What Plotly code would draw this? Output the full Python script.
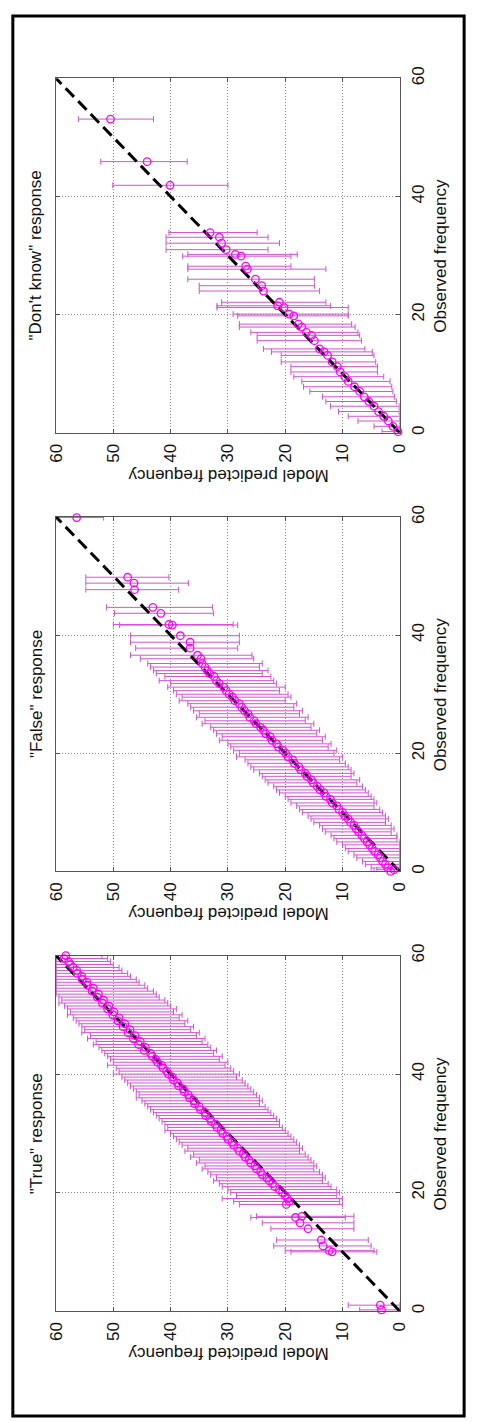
import plotly.graph_objects as go

W, H = 477, 1422

titles = ['"Don\'t know" response', '"False" response', '"True" response']
pred_ticks = [0, 10, 20, 30, 40, 50, 60]
obs_ticks = [0, 20, 40, 60]

# ---- "Don't know" response ----
dk_obs = [53.1, 45.9, 41.9, 33.9, 33.1, 32.1, 31.0, 30.2, 29.9, 28.2, 27.7, 26.0, 24.9, 24.0,
          22.1, 21.5, 21.2, 20.1, 19.8, 18.4, 17.9, 17.0, 16.5, 15.6, 14.2, 13.7, 13.1, 12.0,
          11.2, 10.3, 9.5, 8.7, 7.8, 7.0, 6.1, 5.3, 4.5, 3.6, 2.8, 2.0, 1.1, 0.2]
dk_pred = [50.5, 44.1, 40.1, 33.1, 31.5, 31.1, 30.3, 28.7, 27.7, 26.9, 26.6, 25.2, 24.1, 23.8,
           21.0, 21.3, 20.2, 19.3, 18.5, 17.7, 17.1, 16.3, 15.4, 14.9, 14.0, 13.2, 12.6, 11.8,
           10.9, 10.4, 9.6, 9.0, 7.9, 7.0, 6.2, 5.4, 4.5, 3.7, 2.8, 2.0, 1.2, 0.3]
dk_lo = [43.0, 37.1, 30.0, 24.9, 23.0, 21.0, 23.0, 17.9, 19.0, 19.0, 12.9, 14.9, 14.9, 14.0,
         12.9, 12.1, 9.0, 9.0, 9.0, 8.4, 7.8, 7.3, 7.0, 6.7, 6.1, 4.8, 4.5, 4.2,
         3.9, 3.9, 2.8, 1.7, 1.4, 1.2, 0.9, 0.6, 0.1, 0.1, 0.0, 0.0, 0.0, 0.0]
dk_hi = [56.1, 52.2, 50.1, 40.3, 40.8, 40.8, 40.8, 37.0, 37.9, 37.0, 37.0, 37.0, 35.0, 35.0,
         31.1, 31.9, 31.9, 29.1, 28.3, 28.0, 28.0, 26.0, 24.9, 24.9, 23.8, 22.4, 20.7, 20.7,
         19.0, 19.0, 18.5, 17.1, 16.8, 15.7, 13.5, 12.9, 12.1, 10.7, 9.0, 7.3, 4.5, 3.1]

# ---- "False" response ----
fa_obs = [59.9, 49.8, 48.8, 47.7, 44.7, 43.7, 41.8, 41.7, 39.9, 38.8, 37.8, 36.6, 36.0,
          35.2, 34.6, 34.0, 33.5, 33.0, 32.3, 31.8, 31.2, 30.6, 30.0, 29.5, 28.9, 28.4, 27.8,
          27.2, 26.7, 26.1, 25.5, 25.0, 24.4, 23.9, 23.3, 22.8, 22.2, 21.6, 21.1, 20.5, 20.0,
          19.4, 18.9, 18.3, 17.7, 17.2, 16.6, 16.1, 15.5, 15.0, 14.4, 13.8, 13.3, 12.7, 12.2,
          11.6, 11.1, 10.5, 10.0, 9.4, 8.9, 8.3, 7.8, 7.2, 6.7, 6.1, 5.6, 5.0, 4.5, 3.9, 3.4,
          2.8, 2.3, 1.7, 1.2, 0.6, 0.0, 0.3]
fa_pred = [56.4, 47.5, 46.4, 46.3, 43.1, 41.7, 40.3, 39.7, 38.3, 36.6, 36.6, 35.3, 34.7,
           34.5, 34.0, 33.6, 33.2, 32.4, 32.0, 31.5, 30.7, 30.3, 29.8, 29.2, 28.8, 28.0, 27.6,
           27.1, 26.5, 26.2, 25.4, 25.1, 24.3, 23.8, 23.4, 22.6, 22.3, 21.5, 21.2, 20.4, 19.9,
           19.5, 18.7, 18.4, 17.6, 17.3, 16.5, 16.2, 15.4, 15.1, 14.4, 13.9, 13.2, 12.9, 12.1,
           11.8, 11.0, 10.6, 10.0, 9.6, 9.0, 8.6, 8.0, 7.6, 7.2, 6.6, 6.2, 5.7, 5.3, 4.8, 4.4,
           3.8, 3.4, 3.0, 2.5, 2.1, 1.6, 1.0]
fa_lo = [51.7, 40.3, 36.9, 38.6, 32.7, 32.5, 29.1, 28.3, 28.0, 28.0, 28.3, 25.8, 25.5,
         24.0, 24.5, 23.0, 24.0, 22.5, 22.0, 21.5, 20.0, 21.0, 19.5, 19.0, 20.0, 18.0, 18.5,
         17.0, 17.5, 16.0, 16.5, 15.0, 15.5, 14.0, 14.5, 13.0, 13.5, 12.0, 12.5, 11.0, 11.5,
         10.0, 10.5, 9.5, 9.0, 8.5, 8.0, 8.5, 7.0, 7.5, 6.5, 6.0, 5.5, 5.0, 4.5,
         4.0, 4.5, 3.5, 3.0, 2.5, 2.0, 2.5, 1.5, 1.0, 1.5, 0.5, 0.5, 0.0, 0.0, 0.0, 0.0,
         0.0, 0.0, 0.0, 0.0, 0.0, 0.0, 0.0]
fa_hi = [60.0, 54.8, 54.8, 54.8, 51.2, 49.8, 50.0, 48.9, 47.0, 47.0, 46.1, 47.0, 45.3,
         44.0, 43.5, 43.0, 42.5, 41.0, 42.0, 40.0, 40.5, 39.5, 39.0, 38.0, 38.5, 37.0, 36.5,
         36.0, 35.0, 35.5, 34.0, 34.5, 33.0, 32.5, 32.0, 31.0, 31.5, 30.0, 29.5, 29.0, 28.0,
         28.5, 27.0, 26.5, 26.0, 25.5, 24.5, 24.0, 23.5, 23.0, 22.0, 21.5, 21.0, 20.0, 19.5,
         19.0, 18.0, 17.5, 17.0, 16.0, 15.5, 15.0, 14.0, 13.5, 13.0, 12.0, 11.5, 11.0, 10.0,
         9.5, 9.0, 8.0, 7.5, 6.5, 6.0, 5.0, 4.5, 4.0]

# ---- "True" response ----
tr_obs = [60.0, 59.5, 59.0, 58.5, 58.0, 57.5, 57.0, 56.5, 56.0, 55.5, 55.0, 54.5, 54.0, 53.5,
          53.0, 52.5, 52.0, 51.5, 51.0, 50.5, 50.0, 49.5, 49.0, 48.5, 48.0, 47.5, 47.0, 46.5,
          46.0, 45.5, 45.0, 44.5, 44.0, 43.5, 43.0, 42.5, 42.0, 41.5, 41.0, 40.5, 40.0, 39.5,
          39.0, 38.5, 38.0, 37.5, 37.0, 36.5, 36.0, 35.5, 35.0, 34.5, 34.0, 33.5, 33.0, 32.5,
          32.0, 31.5, 31.0, 30.5, 30.0, 29.5, 29.0, 28.5, 28.0, 27.5, 27.0, 26.5, 26.0, 25.5,
          25.0, 24.5, 24.0, 23.5, 23.0, 22.5, 22.0, 21.5, 21.0, 20.5, 20.0, 19.5, 19.0, 18.5,
          18.0, 16.0, 15.8, 14.9, 13.9, 12.0, 11.0, 10.2, 10.0, 1.0, 0.2]
tr_pred = [58.3, 58.6, 57.8, 57.5, 57.0, 56.4, 56.3, 55.5, 55.4, 54.6, 54.5, 53.5, 53.7, 52.6,
           52.8, 51.7, 51.9, 50.8, 51.0, 49.9, 50.1, 49.0, 49.2, 48.0, 48.3, 47.1, 47.4, 46.2,
           46.5, 45.3, 45.6, 44.4, 44.6, 43.5, 43.2, 42.6, 42.3, 41.6, 41.3, 40.7, 40.4, 39.7,
           39.5, 38.8, 38.6, 37.8, 37.6, 36.9, 36.7, 35.9, 35.8, 35.0, 34.8, 34.0, 33.9, 33.1,
           32.9, 32.2, 31.9, 31.2, 30.9, 30.2, 30.0, 29.3, 29.0, 28.3, 28.0, 27.3, 27.0, 26.3,
           26.0, 25.3, 25.0, 24.3, 24.0, 23.2, 22.8, 22.2, 21.8, 21.0, 20.5, 20.0, 19.6, 19.3,
           19.8, 17.1, 18.2, 17.4, 16.0, 13.7, 13.4, 12.3, 11.8, 3.4, 3.2]
tr_lo = [52.0, 51.0, 50.5, 50.0, 49.0, 48.5, 47.5, 47.0, 46.0, 45.5, 44.5, 44.0, 43.0, 42.5,
         42.0, 41.0, 40.5, 40.0, 39.0, 39.5, 38.0, 38.5, 37.0, 37.5, 36.0, 36.5, 35.0, 35.5,
         34.0, 34.5, 33.5, 33.0, 32.0, 32.5, 31.0, 31.5, 30.0, 30.5, 29.5, 29.0, 28.0, 28.5,
         27.5, 27.0, 26.5, 26.0, 25.5, 25.0, 24.5, 24.0, 24.5, 23.5, 23.0, 22.5, 22.0, 21.5,
         21.0, 21.0, 20.5, 20.0, 19.5, 19.0, 18.5, 18.0, 17.5, 17.0, 17.5, 16.5, 16.0, 15.5,
         15.0, 14.5, 15.0, 14.0, 13.5, 13.0, 13.5, 12.5, 12.0, 11.0, 10.5, 11.0, 10.0, 10.5,
         10.0, 8.0, 9.5, 8.0, 8.0, 5.5, 5.0, 4.5, 4.0, 0.0, 0.0]
tr_hi = [60.0, 60.0, 60.0, 60.0, 60.0, 60.0, 60.0, 60.0, 60.0, 60.0, 60.0, 60.0, 60.0, 60.0,
         59.5, 59.0, 59.5, 58.5, 58.0, 57.5, 58.0, 57.0, 56.5, 56.0, 55.5, 55.0, 55.5, 54.0,
         54.5, 53.0, 53.5, 52.5, 52.0, 51.5, 51.0, 50.5, 50.0, 51.0, 49.5, 49.0, 50.0, 48.5,
         48.0, 47.5, 47.0, 46.5, 46.0, 45.5, 46.0, 45.0, 44.5, 44.0, 43.5, 43.0, 42.5, 42.0,
         41.5, 41.0, 40.5, 41.0, 40.0, 39.5, 39.0, 38.5, 38.0, 37.0, 37.5, 36.0, 36.5, 35.0,
         35.5, 34.0, 34.5, 33.5, 33.0, 32.0, 32.5, 31.5, 31.0, 30.0, 29.5, 28.5, 31.0, 29.0,
         28.0, 25.0, 26.0, 24.0, 22.5, 21.5, 22.0, 20.0, 19.0, 9.0, 7.0]

panels = [
    (dk_obs, dk_pred, dk_lo, dk_hi),
    (fa_obs, fa_pred, fa_lo, fa_hi),
    (tr_obs, tr_pred, tr_lo, tr_hi),
]

# layout geometry (pixels)
left, right = 49, 407
tops = [67, 510, 953]
bottoms = [425, 868, 1312]

FONT = "Liberation Sans, Arial, Helvetica, sans-serif"
MAG = "#ff00ff"
BAR = "#d452d4"


def px(x):
    return x / W


def py(y):
    return 1 - y / H


fig = go.Figure()
annotations = []
layout_axes = {}

for i, (obs, pred, lo, hi) in enumerate(panels):
    n = "" if i == 0 else str(i + 1)
    xa, ya = "x" + n, "y" + n
    plus = [h - p for h, p in zip(hi, pred)]
    minus = [p - l for p, l in zip(pred, lo)]

    fig.add_trace(go.Scatter(
        x=pred, y=obs, xaxis=xa, yaxis=ya, mode="markers",
        marker=dict(size=1, color="rgba(0,0,0,0)"),
        error_x=dict(type="data", symmetric=False, array=plus, arrayminus=minus,
                     color=BAR, thickness=1, width=3),
        showlegend=False, hoverinfo="skip"))
    fig.add_trace(go.Scatter(
        x=[0, 60], y=[0, 60], xaxis=xa, yaxis=ya, mode="lines",
        line=dict(color="black", width=3, dash="12px,6px"),
        showlegend=False, hoverinfo="skip"))
    fig.add_trace(go.Scatter(
        x=pred, y=obs, xaxis=xa, yaxis=ya, mode="markers",
        marker=dict(symbol="circle-open", size=7.5, color=MAG, line=dict(width=1.3, color=MAG)),
        cliponaxis=False, showlegend=False))

    common = dict(
        showgrid=True, gridcolor="#8c8c8c", griddash="1px,2px", gridwidth=1,
        showline=True, mirror="ticks", linecolor="#555", linewidth=1.3,
        ticks="inside", ticklen=4, tickcolor="#555", zeroline=False,
        tickangle=-90, tickfont=dict(size=17, color="#111", family=FONT),
    )
    layout_axes["xaxis" + n] = dict(
        domain=[px(left), px(right)], anchor=ya, range=[60, 0],
        tickvals=pred_ticks, ticklabelstandoff=3, **common)
    layout_axes["yaxis" + n] = dict(
        domain=[py(bottoms[i]), py(tops[i])], anchor=xa, range=[0, 60], side="right",
        tickvals=obs_ticks, ticklabelstandoff=3, **common)

    yc = (tops[i] + bottoms[i]) / 2
    annotations.append(dict(text=titles[i], x=px(28), y=py(yc), xref="paper", yref="paper",
                            showarrow=False, textangle=-90, xanchor="center", yanchor="middle",
                            font=dict(size=17, color="#111", family=FONT)))
    annotations.append(dict(text="Observed frequency", x=px(449), y=py(yc), xref="paper",
                            yref="paper", showarrow=False, textangle=-90, xanchor="center",
                            yanchor="middle", font=dict(size=17, color="#111", family=FONT)))
    annotations.append(dict(text="Model predicted frequency", x=px((left + right) / 2),
                            y=py(bottoms[i] + 43), xref="paper", yref="paper", showarrow=False,
                            textangle=180, xanchor="center", yanchor="middle",
                            font=dict(size=17, color="#111", family=FONT)))

fig.update_layout(
    width=W, height=H,
    margin=dict(l=0, r=0, t=0, b=0),
    paper_bgcolor="white", plot_bgcolor="white",
    font=dict(family=FONT),
    annotations=annotations,
    shapes=[dict(type="rect", xref="paper", yref="paper",
                 x0=px(4), x1=px(474), y0=py(1418), y1=py(4),
                 line=dict(color="black", width=3))],
    **layout_axes,
)

fig.write_html(
    "out.html",
    config={"displayModeBar": False},
    post_script="document.body.style.margin='0px';document.body.style.padding='0px';"
                "document.body.style.overflow='hidden';"
                "document.documentElement.style.overflow='hidden';",
)
